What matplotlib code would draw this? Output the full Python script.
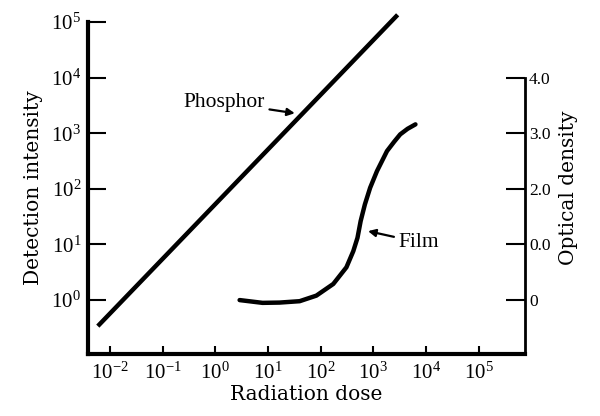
import numpy as np
import matplotlib
matplotlib.use("Agg")
import matplotlib.pyplot as plt

plt.rcParams["font.family"] = ["Liberation Serif", "DejaVu Serif"]
plt.rcParams["mathtext.fontset"] = "stix"

# Phosphor: straight line on log-log axes (endpoints)
phosphor_dose = [0.0059, 2900]
phosphor_intensity = [0.34, 135000]

# Film: characteristic curve, optical density vs dose
film_dose = [2.9, 7.9, 16.6, 40, 83, 174, 309, 417, 501, 575, 692, 871,
             1175, 1820, 2500, 3240, 4470, 6310]
film_od = [0.0, -0.05, -0.045, -0.02, 0.08, 0.29, 0.59, 0.88, 1.12, 1.42,
           1.72, 2.02, 2.32, 2.68, 2.85, 2.98, 3.08, 3.16]

x_ticks = [1e-2, 1e-1, 1e0, 1e1, 1e2, 1e3, 1e4, 1e5]
y_ticks = [1e0, 1e1, 1e2, 1e3, 1e4, 1e5]
od_ticks = [0, 1, 2, 3, 4]
od_labels = ["0", "0.0", "2.0", "3.0", "4.0"]

fig = plt.figure(figsize=(6.0, 4.16), dpi=100)
ax = fig.add_axes([0.1467, 0.149, 0.728, 0.798])

ax.plot(phosphor_dose, phosphor_intensity, color="black", lw=3.2,
        solid_capstyle="butt", clip_on=False)
ax.set_xscale("log")
ax.set_yscale("log")
ax.set_xlim(10 ** -2.415, 10 ** 5.876)
ax.set_ylim(10 ** -0.97, 1e5)
ax.set_xticks(x_ticks)
ax.set_yticks(y_ticks)
ax.minorticks_off()
ax.tick_params(axis="y", direction="in", length=13, width=1.5,
               labelsize=15, pad=5)
ax.tick_params(axis="x", direction="in", length=6, width=1.5,
               labelsize=15, pad=6)
ax.spines["top"].set_visible(False)
ax.spines["right"].set_visible(False)
ax.spines["left"].set_linewidth(3)
ax.spines["bottom"].set_linewidth(3)
ax.set_xlabel("Radiation dose", fontsize=14.5, family="DejaVu Serif",
              labelpad=1)
ax.set_ylabel("Detection intensity", fontsize=14.5, family="DejaVu Serif",
              labelpad=6)

ax.annotate("Phosphor", xy=(10 ** 1.51, 10 ** 3.36),
            xytext=(10 ** 0.95, 10 ** 3.55), fontsize=15.5,
            ha="right", va="center",
            arrowprops=dict(arrowstyle="-|>", color="black", lw=1.6,
                            mutation_scale=11, shrinkA=1, shrinkB=0))

ax2 = ax.twinx()
ax2.plot(film_dose, film_od, color="black", lw=3.2, solid_capstyle="round",
         solid_joinstyle="round")
ax2.set_ylim(-0.97, 5.0)
ax2.set_yticks(od_ticks)
ax2.set_yticklabels(od_labels)
ax2.tick_params(axis="y", direction="in", length=14, width=1.5,
                labelsize=12.5, pad=3)
for s in ["top", "left", "bottom"]:
    ax2.spines[s].set_visible(False)
ax2.spines["right"].set_linewidth(2)
ax2.spines["right"].set_bounds(-0.97, 4.0)
ax2.set_ylabel("Optical density", fontsize=14.5, family="DejaVu Serif",
               labelpad=6)

ax2.annotate("Film", xy=(10 ** 2.90, 1.24), xytext=(10 ** 3.47, 1.04),
             fontsize=15.5, ha="left", va="center",
             arrowprops=dict(arrowstyle="-|>", color="black", lw=1.6,
                             mutation_scale=11, shrinkA=1, shrinkB=0))

fig.savefig("out.png", dpi=100)
